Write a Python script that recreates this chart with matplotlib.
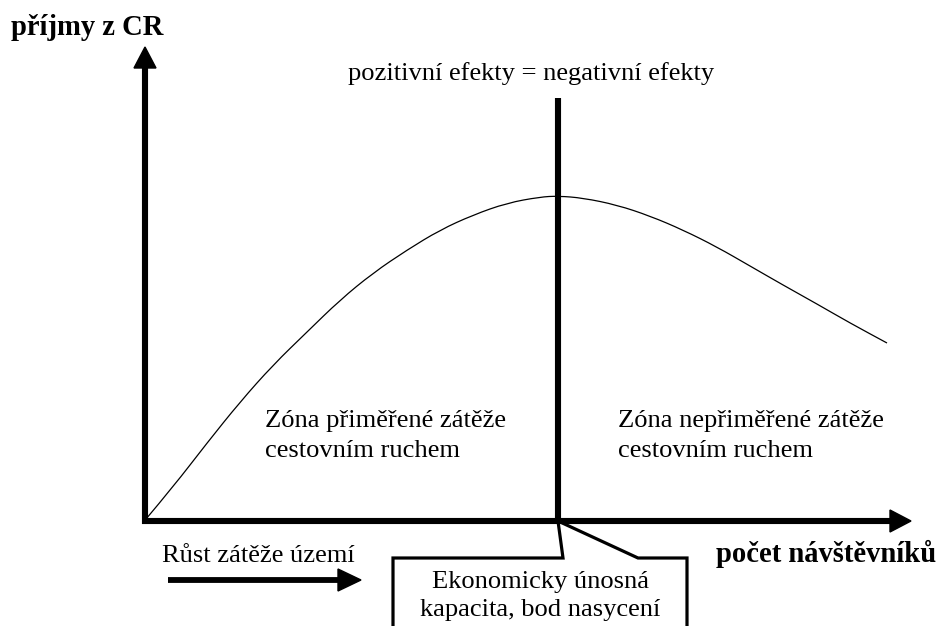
import matplotlib
matplotlib.use("Agg")
import matplotlib.pyplot as plt
from matplotlib.patches import Polygon, PathPatch
from matplotlib.path import Path

# ---- data (diagram coordinates, pixel-like units, y grows downward) ----
curve_x = [146, 173, 207, 240, 273, 307, 340, 373, 407, 440, 473, 507, 540, 558,
           583, 617, 650, 683, 717, 750, 783, 817, 850, 887]
curve_y = [519, 487, 443, 402, 365, 332, 300, 273, 250, 230, 215, 203, 197, 196,
           198, 205, 216, 230, 247, 266, 285, 304, 323, 343]
saturation_x = 558
y_label = "příjmy z CR"
x_label = "počet návštěvníků"
top_label = "pozitivní efekty = negativní efekty"
zone_left = ["Zóna přiměřené zátěže", "cestovním ruchem"]
zone_right = ["Zóna nepřiměřené zátěže", "cestovním ruchem"]
growth_label = "Růst zátěže území"
callout_label = ["Ekonomicky únosná", "kapacita, bod nasycení"]

W, H = 936, 626
fig = plt.figure(figsize=(W / 100, H / 100), dpi=100)
ax = fig.add_axes([0, 0, 1, 1])
ax.set_xlim(0, W)
ax.set_ylim(H, 0)
ax.axis("off")

serif = ["Liberation Serif", "DejaVu Serif"]
axis_lw = 4.4
ox, oy = 145, 521

# y axis
ax.plot([ox, ox], [oy + 3, 66], color="black", lw=axis_lw, solid_capstyle="butt")
ax.add_patch(Polygon([[ox - 11, 68], [ox + 11, 68], [ox, 47]], closed=True, color="black"))
# x axis
ax.plot([ox - 3, 892], [oy, oy], color="black", lw=axis_lw, solid_capstyle="butt")
ax.add_patch(Polygon([[890, oy - 11], [890, oy + 11], [911, oy]], closed=True, color="black"))
# vertical saturation line
ax.plot([saturation_x, saturation_x], [98, oy], color="black", lw=axis_lw, solid_capstyle="butt")

# smooth curve through the read points (quadratic Bezier through midpoints)
pts = list(zip(curve_x, curve_y))
verts = [pts[0]]
codes = [Path.MOVETO]
for i in range(1, len(pts) - 1):
    mx = (pts[i][0] + pts[i + 1][0]) / 2
    my = (pts[i][1] + pts[i + 1][1]) / 2
    verts += [pts[i], (mx, my)]
    codes += [Path.CURVE3, Path.CURVE3]
verts.append(pts[-1])
codes.append(Path.LINETO)
ax.add_patch(PathPatch(Path(verts, codes), facecolor="none", edgecolor="black", lw=0.9))

# growth arrow
ax.plot([168, 340], [580, 580], color="black", lw=4.2, solid_capstyle="butt")
ax.add_patch(Polygon([[338, 569], [338, 591], [361, 580]], closed=True, color="black"))

# callout box
callout = [[393, 640], [393, 558], [563, 558], [saturation_x, oy], [638, 558],
           [687, 558], [687, 640]]
ax.add_patch(Polygon(callout, closed=False, facecolor="white", edgecolor="black",
                     lw=2.3, joinstyle="miter", clip_on=True))

fig.canvas.draw()
renderer = fig.canvas.get_renderer()


def fit_size(s, width, weight="normal", base=12):
    t = ax.text(0, 0, s, fontsize=base, family=serif, fontweight=weight)
    w = t.get_window_extent(renderer).width
    t.remove()
    return base * width / w


fs = fit_size(top_label, 366)
fs_bold = fit_size(y_label, 152, weight="bold")


def txt(x, y, s, ha="left", size=fs, weight="normal"):
    ax.text(x, y, s, ha=ha, va="baseline", fontsize=size, family=serif,
            fontweight=weight, color="black")


txt(11, 35, y_label, size=fs_bold, weight="bold")
txt(716, 562, x_label, size=fs_bold, weight="bold")
txt(531, 80, top_label, ha="center")
txt(265, 427, zone_left[0])
txt(265, 457, zone_left[1])
txt(618, 427, zone_right[0])
txt(618, 457, zone_right[1])
txt(162, 562, growth_label)
txt(540, 588, callout_label[0], ha="center")
txt(540, 616, callout_label[1], ha="center")

fig.savefig("out.png", dpi=100, facecolor="white")
